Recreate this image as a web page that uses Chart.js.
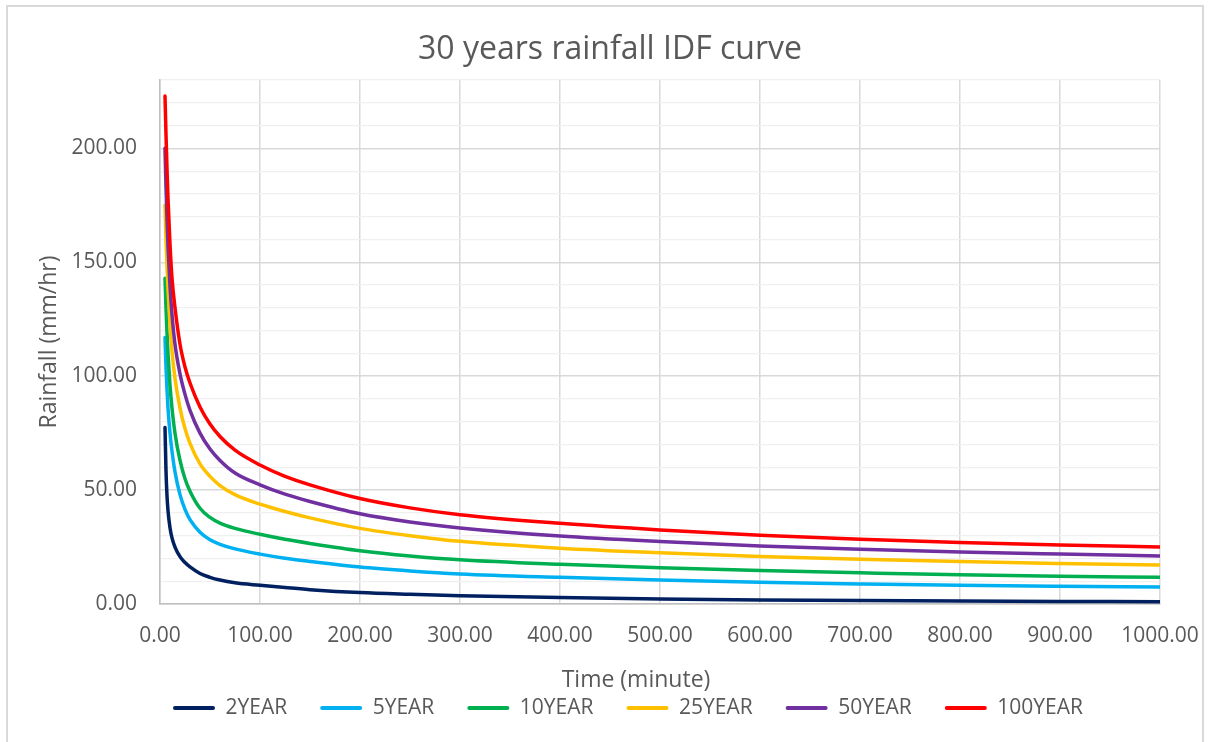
<!DOCTYPE html>
<html>
<head>
<meta charset="utf-8">
<title>30 years rainfall IDF curve</title>
<script src="https://cdn.jsdelivr.net/npm/chart.js@4.4.1/dist/chart.umd.min.js"></script>
<style>
  html, body { margin: 0; padding: 0; background: #ffffff; }
  #wrap { width: 1210px; height: 742px; position: relative; }
  canvas { display: block; }
</style>
</head>
<body>
<div id="wrap"><canvas id="idf" width="1210" height="742"></canvas></div>
<script>
// Storm durations (minutes)
const durations = [5, 6, 7, 8, 10, 12, 15, 20, 25, 30, 40, 50, 60, 75, 100, 125, 150, 200, 250, 300, 400, 500, 600, 700, 800, 900, 1000];

// Rainfall intensity (mm/hr) for each return period
const year2   = [77.5, 58.5, 47.5, 41, 33.5, 29, 25, 20.8, 18.2, 16.3, 13.4, 11.7, 10.5, 9.3, 8.2, 7.2, 6.3, 5.0, 4.25, 3.65, 2.8, 2.2, 1.8, 1.5, 1.3, 1.15, 1.0];
const year5   = [117, 104, 94, 86, 75, 67, 58, 48, 41.5, 37, 31.5, 28.2, 26.2, 24.2, 21.9, 20.1, 18.7, 16.2, 14.5, 13.2, 11.7, 10.5, 9.5, 8.8, 8.2, 7.8, 7.5];
const year10  = [143, 130, 119, 110, 96, 86, 75, 63, 55, 49.5, 42, 38, 35.5, 33.2, 30.6, 28.4, 26.6, 23.4, 21.1, 19.4, 17.4, 15.9, 14.7, 13.7, 12.8, 12.2, 11.7];
const year25  = [175, 160, 148, 138, 122.5, 111, 99, 86, 77, 70.5, 61.5, 56, 52, 48, 43.8, 40.6, 37.8, 33.2, 30, 27.5, 24.5, 22.5, 20.9, 19.6, 18.6, 17.8, 17.1];
const year50  = [200, 183, 169, 157, 139.5, 127, 114, 101, 92, 85, 75, 68, 63, 57.5, 52.3, 48.2, 45, 39.6, 36, 33.4, 29.8, 27.4, 25.5, 24, 22.8, 21.9, 21.1];
const year100 = [223, 206, 191, 178, 158, 143, 130, 114, 104, 97, 86.5, 79, 73.5, 67.5, 61, 56, 52.3, 46.3, 42.2, 39.2, 35.4, 32.5, 30.2, 28.4, 27, 25.9, 25];

const seriesNames  = ['2YEAR', '5YEAR', '10YEAR', '25YEAR', '50YEAR', '100YEAR'];
const seriesValues = [year2, year5, year10, year25, year50, year100];
const seriesColors = ['#002060', '#00B0F0', '#00B050', '#FFC000', '#7030A0', '#FF0000'];

// Axis ranges and tick spacing
const X_MIN = 0, X_MAX = 1000, X_STEP = 100;
const Y_MIN = 0, Y_MAX = 230, Y_STEP = 10, Y_LABEL_STEP = 50;

const chartTitle = '30 years rainfall IDF curve';
const xTitle = 'Time (minute)';
const yTitle = 'Rainfall (mm/hr)';

const TEXT = '#595959';
const FONT = "'Open Sans', 'Liberation Sans', sans-serif";

// Places the title, legend row and x-axis title, and draws the outer chart frame.
const frameAndPlacement = {
  id: 'frameAndPlacement',
  afterLayout(chart) {
    const tb = chart.titleBlock;
    if (tb) {
      const dx = 610 - (tb.left + tb.right) / 2;
      tb.left += dx; tb.right += dx;
    }
    const lg = chart.legend;
    if (lg && lg.lineWidths) {
      const p = lg.options.labels.padding;
      const fs = lg.options.labels.font.size;
      const startX = (lg.left + p + lg.right - lg.lineWidths[0]) / 2;
      const dx = 173 - startX;
      const dy = 708 - (lg.top + p + fs / 2);
      lg.left += dx; lg.right += dx; lg.top += dy; lg.bottom += dy;
      lg.bottom = Math.max(lg.bottom, lg.top + p + fs + 14);
      lg.height = lg.bottom - lg.top;
    }
    const xs = chart.scales.x;
    if (xs && !xs._titleShifted) {
      const baseDrawTitle = Object.getPrototypeOf(xs).drawTitle;
      xs.drawTitle = function () {
        const l = this.left, r = this.right;
        const dx = 636 - (l + r) / 2;
        this.left = l + dx; this.right = r + dx;
        baseDrawTitle.call(this);
        this.left = l; this.right = r;
      };
      xs._titleShifted = true;
    }
  },
  beforeDraw(chart) {
    const ctx = chart.ctx;
    ctx.save();
    ctx.strokeStyle = '#d9d9d9';
    ctx.lineWidth = 2;
    ctx.strokeRect(7, 6, 1196, 748);
    ctx.restore();
  }
};

function build() {
  Chart.defaults.font.family = FONT;
  Chart.defaults.color = TEXT;

  const datasets = seriesNames.map((name, s) => ({
    label: name,
    data: durations.map((t, i) => ({ x: t, y: seriesValues[s][i] })),
    borderColor: seriesColors[s],
    backgroundColor: seriesColors[s],
    borderWidth: 3.5,
    pointRadius: 0,
    pointHoverRadius: 0,
    fill: false,
    cubicInterpolationMode: 'monotone',
    borderCapStyle: 'round',
    order: seriesNames.length - s
  }));

  new Chart(document.getElementById('idf'), {
    type: 'line',
    data: { datasets },
    plugins: [frameAndPlacement],
    options: {
      responsive: false,
      animation: false,
      devicePixelRatio: 1,
      layout: { padding: { left: 8, right: 50, top: 0, bottom: 0 } },
      plugins: {
        tooltip: { enabled: false },
        title: {
          display: true,
          text: chartTitle,
          color: TEXT,
          font: { family: FONT, size: 32, weight: 'normal', lineHeight: 1.2 },
          padding: { top: 31, bottom: 10.6 }
        },
        legend: {
          display: true,
          position: 'bottom',
          maxHeight: 46,
          labels: {
            color: TEXT,
            font: { family: FONT, size: 21 },
            boxWidth: 42,
            boxHeight: 4,
            padding: 33,
            generateLabels(chart) {
              const items = Chart.defaults.plugins.legend.labels.generateLabels(chart);
              items.forEach(it => { it.fillStyle = it.strokeStyle; it.lineWidth = 0; it.borderRadius = 2; });
              return items.sort((a, b) => a.datasetIndex - b.datasetIndex);
            }
          }
        }
      },
      scales: {
        x: {
          type: 'linear',
          min: X_MIN,
          max: X_MAX,
          afterFit(scale) {
            scale.height = 92;
            scale.paddingRight = 40;
          },
          ticks: {
            stepSize: X_STEP,
            autoSkip: false,
            maxRotation: 0,
            padding: 19,
            color: TEXT,
            font: { size: 21 },
            callback: v => Number(v).toFixed(2)
          },
          grid: { color: '#d9d9d9', lineWidth: 1.5, drawTicks: false },
          border: { color: '#bfbfbf', width: 1.5 },
          title: {
            display: true,
            text: xTitle,
            color: TEXT,
            font: { size: 23, lineHeight: 1.2 },
            padding: { top: 0, bottom: 2.2 }
          }
        },
        y: {
          type: 'linear',
          min: Y_MIN,
          max: Y_MAX,
          afterFit(scale) { scale.width = 152; },
          ticks: {
            stepSize: Y_STEP,
            autoSkip: false,
            padding: 23,
            color: TEXT,
            font: { size: 21 },
            callback: v => (v % Y_LABEL_STEP === 0 ? Number(v).toFixed(2) : '')
          },
          grid: {
            drawTicks: false,
            color: c => (c.tick && c.tick.value % Y_LABEL_STEP === 0 ? '#d9d9d9' : '#f0f0f0'),
            lineWidth: c => (c.tick && c.tick.value % Y_LABEL_STEP === 0 ? 1.5 : 1.2)
          },
          border: { color: '#bfbfbf', width: 1.5 },
          title: {
            display: true,
            text: yTitle,
            color: TEXT,
            font: { size: 23, lineHeight: 1.2 },
            padding: { top: 28, bottom: 0 }
          }
        }
      }
    }
  });
}

if (document.fonts && document.fonts.load) {
  Promise.all([
    document.fonts.load("21px 'Open Sans'"),
    document.fonts.load("32px 'Open Sans'")
  ]).then(build, build);
} else {
  build();
}
</script>
</body>
</html>
